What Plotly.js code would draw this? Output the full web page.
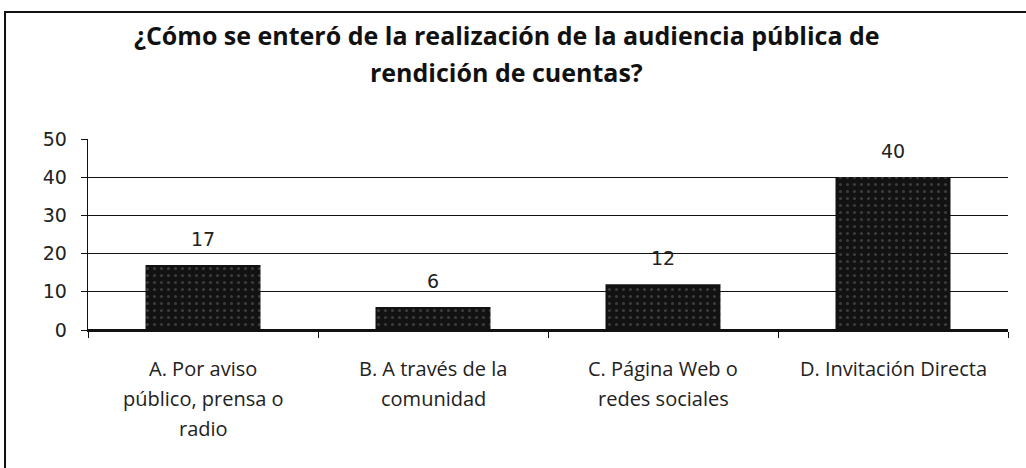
<!DOCTYPE html>
<html>
<head>
<meta charset="utf-8">
<script src="https://cdn.plot.ly/plotly-3.0.1.min.js"></script>
<style>html,body{margin:0;padding:0;background:#fff;}#chart{width:1026px;height:468px;}</style>
</head>
<body>
<div id="chart"></div>
<script>
var categories = ["A. Por aviso", "B. A través de la", "C. Página Web o", "D. Invitación Directa"];
var categoryLines = [
  ["A. Por aviso", "público, prensa o", "radio"],
  ["B. A través de la", "comunidad"],
  ["C. Página Web o", "redes sociales"],
  ["D. Invitación Directa"]
];
var values = [17, 6, 12, 40];
var valueLabels = ["17", "6", "12", "40"];
var yTicks = [0, 10, 20, 30, 40, 50];
var titleLines = ["¿Cómo se enteró de la realización de la audiencia pública de", "rendición de cuentas?"];

var trace = {
  type: "bar",
  x: categories,
  y: values,
  marker: {color: "#121212", line: {width: 0},
           pattern: {shape: ".", bgcolor: "#121212", fgcolor: "#3c3c3c", size: 7, solidity: 0.15}},
  hoverinfo: "skip"
};

var annotations = [];
var titleShift = [104, 67];
titleLines.forEach(function (t, i) {
  annotations.push({text: t, xref: "paper", yref: "paper", x: 0.455, y: 1, xanchor: "center", yanchor: "middle",
    yshift: titleShift[i], showarrow: false,
    font: {family: "Open Sans", size: 25, color: "#111", weight: "bold"}});
});
values.forEach(function (v, i) {
  annotations.push({text: valueLabels[i], x: categories[i], y: v, xref: "x", yref: "y",
    xanchor: "center", yanchor: "middle", yshift: 26, showarrow: false,
    font: {family: "DejaVu Sans", size: 19, color: "#222"}});
});
var lineShift = [-38, -68, -98];
categoryLines.forEach(function (lines, i) {
  lines.forEach(function (ln, j) {
    annotations.push({text: ln, x: categories[i], xref: "x", yref: "paper", y: 0,
      xanchor: "center", yanchor: "middle", yshift: lineShift[j], showarrow: false,
      font: {family: "Open Sans", size: 20, color: "#222"}});
  });
});

var layout = {
  width: 1026, height: 468,
  margin: {l: 88, r: 18, t: 139, b: 138},
  paper_bgcolor: "#fff", plot_bgcolor: "#fff",
  bargap: 0.5,
  showlegend: false,
  xaxis: {
    type: "category",
    showgrid: false, showline: true, linecolor: "#111", linewidth: 1.5,
    ticks: "outside", tickson: "boundaries", ticklen: 6, tickcolor: "#111",
    showticklabels: false,
    fixedrange: true
  },
  yaxis: {
    range: [0, 50], tickvals: yTicks, showgrid: true, gridcolor: "#111", gridwidth: 1.4,
    zeroline: true, zerolinecolor: "#111", zerolinewidth: 1.5,
    showline: true, linecolor: "#111", linewidth: 1.3,
    ticks: "outside", ticklen: 6, tickcolor: "#111", ticklabelstandoff: 10,
    tickfont: {family: "DejaVu Sans", size: 19, color: "#222"},
    fixedrange: true
  },
  annotations: annotations,
  shapes: [{type: "rect", xref: "paper", yref: "paper", x0: -0.0902, x1: 1.03, y0: -0.75, y1: 1.665,
            line: {color: "#111", width: 2}, fillcolor: "rgba(0,0,0,0)", layer: "below"}]
};

Plotly.newPlot("chart", [trace], layout, {displayModeBar: false, staticPlot: true});
</script>
</body>
</html>
